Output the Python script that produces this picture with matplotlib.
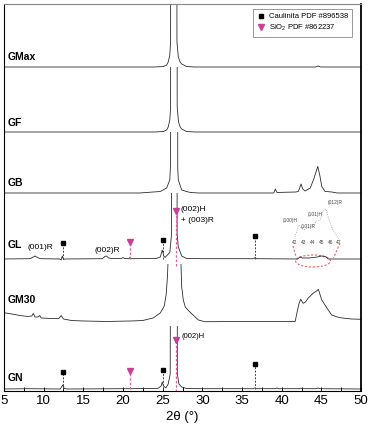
import numpy as np
import matplotlib
matplotlib.use("Agg")
import matplotlib.pyplot as plt
from matplotlib.patches import Ellipse, Rectangle
from matplotlib.lines import Line2D

plt.rcParams['font.family'] = ['Liberation Sans', 'DejaVu Sans']
plt.rcParams['mathtext.fontset'] = 'custom'
plt.rcParams['mathtext.rm'] = 'Liberation Sans'

# ---- traces (2theta, intensity above each baseline) ----
gmax_x = [5, 24.0, 25.1, 25.5, 25.7, 25.9, 26.0, 26.05, 26.75, 26.8, 26.97, 27.2, 27.4, 28.0, 29, 44.3, 44.6, 44.9, 50]
gmax_y = [0, 0, 0.5, 2, 5, 12, 25, 1000, 1000, 25, 10, 5, 3, 0.5, 0, 0, 1, 0, 0]

gf_x = [5, 24.0, 25.1, 25.5, 25.7, 25.9, 26.0, 26.05, 26.78, 26.83, 27.0, 27.2, 27.4, 28.0, 29, 50]
gf_y = [0, 0, 0.5, 2, 5, 12, 25, 1000, 1000, 25, 10, 5, 3, 0.5, 0, 0]

gb_x = [5, 22.1, 24.7, 25.5, 25.9, 26.0, 26.02, 26.85, 26.9, 26.97, 27.4, 28.0, 28.5, 29.5,
        39.0, 39.2, 39.4, 41.8, 42.1, 42.45, 42.66, 42.95, 43.6, 44.0, 44.55, 44.83, 45.05,
        45.46, 46.3, 47, 50]
gb_y = [0, 0, 1.5, 5, 13, 30, 1000, 1000, 25, 13, 3, 1.5, 0.5, 0,
        0, 4, 0.5, 1, 1.6, 9, 4, 2, 5, 13, 26.6, 16.6, 6.6,
        1.6, 1, 0, 0]

gl_x = [5, 8.3, 8.7, 8.9, 9.2, 9.6, 12.0, 12.2, 12.35, 12.5, 12.7, 17.4, 17.7, 17.9, 18.2, 18.6,
        19.8, 20.0, 20.2, 20.8, 20.9, 21.0, 24.2, 24.7, 24.95, 25.15, 25.3, 25.9, 26.1, 26.25,
        26.77, 26.82, 26.97, 27.4, 28.0, 30, 36.5, 36.65, 36.8, 42.0, 42.3, 42.6, 43.5, 44.5,
        45.0, 45.5, 45.9, 50]
gl_y = [0, 0.3, 2, 3, 1.5, 0.3, 0, -1, 3, -0.5, 0, 0.3, 2.5, 3, 1, 0.5,
        0.5, 1.5, 0.5, 0.3, 2, 0.3, 0.5, 2, 9, 3, 1.5, 6.6, 23, 1000,
        1000, 25, 12, 3, 0.5, 0.3, 0.3, 1.5, 0.3, 0, 2, 1, 1, 2,
        3, 2.5, 0, 0]

gm30_x = [5, 6, 7, 8, 8.5, 8.7, 8.9, 9.3, 9.5, 9.7, 11, 11.9, 12.2, 12.5, 13.5, 15, 18, 21,
          22.5, 23.8, 24.7, 25.2, 25.45, 25.6, 25.7, 25.72, 27.25, 27.3, 27.4, 27.6, 27.85,
          28.3, 28.7, 29.5, 30.3, 35, 41.7, 41.95, 42.2, 42.4, 42.7, 43.0, 43.35, 44.0, 44.4,
          44.63, 44.85, 45.05, 45.3, 45.7, 46.3, 47.0, 47.6, 48.8, 50]
gm30_y = [9.3, 8, 6.5, 5.5, 6, 8.5, 5, 5, 6.5, 4, 3.5, 3.5, 6.5, 3, 1.5, 1, 0.5, 1,
          1.5, 4, 9, 16, 28, 45, 65, 1000, 1000, 60, 35, 22, 15,
          11, 8, 2, 0.3, 0.5, 0.5, 10, 19, 22.7, 18.7, 20, 24, 29, 31,
          32.7, 27, 22, 19, 14, 7, 5, 4, 3, 2.7]

gn_x = [5, 8, 12.1, 12.4, 12.6, 13, 20, 24.4, 24.8, 24.95, 25.1, 25.4, 25.7, 25.95, 26.22,
        26.78, 26.85, 27.05, 27.4, 28, 30, 36.4, 36.6, 36.8, 39.2, 39.4, 39.6, 42.2, 42.4,
        42.6, 44.4, 44.6, 44.8, 50]
gn_y = [0, 0.3, 0, 4, 0.5, 0, 0.3, 0.5, 3, 7, 3, 1, 5, 15, 1000,
        1000, 15, 5, 2, 0.5, 0.3, 0.3, 1, 0.3, 0.3, 1, 0.3, 0.3, 0.8,
        0.3, 0.3, 1, 0.3, 0]

samples = ['GMax', 'GF', 'GB', 'GL', 'GM30', 'GN']
xs = [gmax_x, gf_x, gb_x, gl_x, gm30_x, gn_x]
ys = [gmax_y, gf_y, gb_y, gl_y, gm30_y, gn_y]
offsets = [324, 259, 198, 132, 69, 2]
clip_top = [387, 324, 259, 198, 127, 65]
label_y = [334, 268, 208, 146, 91, 13]

# reference peaks (kaolinite squares, SiO2 triangles) and their marker heights
kao_pos = [12.4, 25.0, 36.7]
sio2_pos = [20.9, 26.65]
gl_kao_h = [148, 151, 155]
gl_sio2_h = [149, 180]
gn_kao_h = [19, 21, 27]
gn_sio2_h = [20, 51]

# inset of GL 42-47 region
ins_x = [41.9, 42.2, 42.4, 42.65, 42.95, 43.5, 44.1, 44.45, 44.85, 45.2, 45.5, 45.8, 46.2, 46.75, 47.0]
ins_y = [0, 7.7, 14, 11.7, 9.3, 11, 14, 18, 19, 27.7, 30, 21, 11, 2.7, 0]
ins_lab = ['(100)H', '(101)R', '(101)H', '(012)R']
ins_lab_x = [41.43, 43.48, 44.27, 46.55]
ins_lab_y = [18, 12, 24, 36]

fig = plt.figure(figsize=(3.7, 4.34), dpi=100)
ax = fig.add_axes([0.0108, 0.0991, 0.9649, 0.8917])
ax.set_xlim(5, 50)
ax.set_ylim(0, 387)

line_c = '#2b2b2b'
pink = '#c63f9a'
for name, x, y, off, top, ly in zip(samples, xs, ys, offsets, clip_top, label_y):
    ln, = ax.plot(x, np.array(y) + off, color=line_c, lw=0.6)
    clip = Rectangle((5, off - 10), 45, top - off + 10, transform=ax.transData)
    ln.set_clip_path(clip)
    ax.text(5.4, ly, name, fontsize=7.5, fontweight='bold', va='center', ha='left')

for base, kh, sh in [(132, gl_kao_h, gl_sio2_h), (2, gn_kao_h, gn_sio2_h)]:
    for p, h in zip(kao_pos, kh):
        ax.plot([p, p], [base, h], ls=(0, (2, 1.5)), color='#444444', lw=0.7)
        ax.plot(p, h, 's', color='black', ms=3)
    for i, (p, h) in enumerate(zip(sio2_pos, sh)):
        low = base - 7 if i == 1 else base
        ax.plot([p, p], [low, h], ls=(0, (2, 1.5)), color='#e0609f', lw=0.9)
        ax.plot(p, h, 'v', color=pink, ms=4, mec=pink)

ax.text(9.6, 143, '(001)R', fontsize=6, ha='center', va='center')
ax.text(18.07, 140, '(002)R', fontsize=6, ha='center', va='center')
ax.text(27.3, 181, '(002)H', fontsize=6, ha='left', va='center')
ax.text(27.3, 170, '+ (003)R', fontsize=6, ha='left', va='center')
ax.text(27.4, 54, '(002)H', fontsize=5.5, ha='left', va='center')

# inset
ins = ax.inset_axes([41.68, 152, 5.55, 40], transform=ax.transData)
ins.plot(ins_x, ins_y, color='#9a9a9a', lw=0.6, ls=':')
ins.set_xlim(42, 47)
ins.set_ylim(0, 40)
ins.set_xticks([42, 43, 44, 45, 46, 47])
ins.tick_params(axis='x', length=0, labelsize=3.5, pad=0.5, colors='#444444')
ins.set_yticks([])
for s in ins.spines.values():
    s.set_visible(False)
ins.patch.set_visible(False)
for t, lx, lyy in zip(ins_lab, ins_lab_x, ins_lab_y):
    ins.text(lx, lyy, t, fontsize=3.5, ha='center', va='center', color='#444444', clip_on=False)

red = '#f06060'
ax.add_patch(Ellipse((43.95, 130), 4.4, 12, fill=False, ec=red, ls=(0, (2, 1.5)), lw=0.8))
ax.plot([41.43, 41.8], [145, 134], color=red, ls=(0, (2, 1.5)), lw=0.8)
ax.plot([47.35, 46.55], [148, 133], color=red, ls=(0, (2, 1.5)), lw=0.8)

ax.set_xticks(np.arange(5, 51, 5))
ax.set_xticks(np.arange(7.5, 50, 5), minor=True)
ax.tick_params(axis='x', which='both', direction='in', length=3, width=0.7, labelsize=9.5, pad=3)
ax.set_yticks([])
ax.set_xlabel('2θ (°)', fontsize=9.5, labelpad=3)
for s in ax.spines.values():
    s.set_linewidth(0.8)
ax.spines['right'].set_linewidth(1.3)
ax.spines['top'].set_color('#888888')

handles = [Line2D([], [], ls='none', marker='s', color='black', ms=3),
           Line2D([], [], ls='none', marker='v', color=pink, ms=4)]
leg = ax.legend(handles, ['Caulinita PDF #896538', 'SiO$_2$ PDF #862237'],
                loc='upper right', bbox_to_anchor=(0.975, 0.987), borderaxespad=0,
                fontsize=5.5, fancybox=False, edgecolor='#888888', framealpha=1,
                handletextpad=0.4, handlelength=1.2, borderpad=0.5, labelspacing=0.3)
leg.get_frame().set_linewidth(0.6)

fig.savefig('out.png', dpi=100)
